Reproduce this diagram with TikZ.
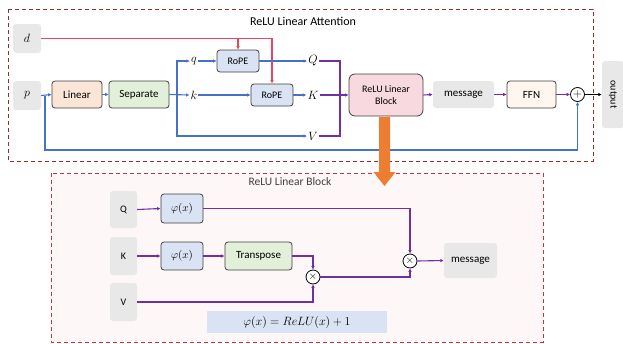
\documentclass[tikz,border=0pt]{standalone}
\usepackage{fontspec}
\setmainfont{Carlito}
\usetikzlibrary{arrows.meta}
\definecolor{cblue}{HTML}{4472C4}
\definecolor{cred}{HTML}{E4475E}
\definecolor{cpurple}{HTML}{7030A0}
\definecolor{corange}{HTML}{ED7D31}
\definecolor{cgray}{HTML}{E8E8E8}
\definecolor{cborder}{HTML}{404040}
\definecolor{cpeach}{HTML}{FBE5D6}
\definecolor{cgreen}{HTML}{E2F0D9}
\definecolor{clblue}{HTML}{DAE3F3}
\definecolor{cpink}{HTML}{F9D9E0}
\definecolor{cffn}{HTML}{FEF6EF}
\definecolor{cdarkred}{HTML}{A0282D}
\definecolor{cboxred}{HTML}{C8323C}
\definecolor{cboxfill}{HTML}{FDF7F8}
\tikzset{
  graybox/.style={draw=none,fill=cgray,rounded corners=3pt,inner sep=0pt,font=\fontsize{11}{13}\selectfont},
  blockbox/.style={draw=cborder,line width=0.8pt,rounded corners=3pt,inner sep=0pt,font=\fontsize{11}{13}\selectfont},
  mathlbl/.style={inner sep=1pt,font=\fontsize{13}{15}\selectfont},
  opcirc/.style={circle,draw=black,fill=white,line width=0.8pt,minimum size=14pt,inner sep=0pt},
  tip/.style={-{Latex[length=3.5pt,width=3.5pt]}},
  bl/.style={draw=cblue,line width=1.1pt},
  rl/.style={draw=cred,line width=1.1pt},
  pl/.style={draw=cpurple,line width=1.1pt},
}
\begin{document}
\begin{tikzpicture}[x=1pt,y=-1pt]
\useasboundingbox (0,0) rectangle (623,343);
% outer frames
\draw[cdarkred,dashed,line width=0.9pt,dash pattern=on 4pt off 3pt] (8,9) rectangle (593,161);
\node[font=\fontsize{12}{14}\selectfont] (t1) at (303,21) {ReLU Linear Attention};
\draw[cboxred,fill=cboxfill,line width=0.9pt,dash pattern=on 4pt off 3pt] (51,173) rectangle (543,342);
\node[font=\fontsize{11.5}{14}\selectfont,text=black!75] (t2) at (290,182) {ReLU Linear Block};

% top nodes
\node[graybox,minimum width=28pt,minimum height=29pt] (d) at (27,38.5) {\fontsize{13}{15}\selectfont$d$};
\node[graybox,minimum width=28pt,minimum height=29pt] (p) at (27,95.5) {\fontsize{13}{15}\selectfont$p$};
\node[blockbox,fill=cpeach,minimum width=50pt,minimum height=27pt] (lin) at (77,94.5) {Linear};
\node[blockbox,fill=cgreen,minimum width=60pt,minimum height=27pt] (sep) at (139,94.5) {Separate};
\node[mathlbl] (q) at (194,61) {$q$};
\node[mathlbl] (k) at (194,95) {$k$};
\node[mathlbl] (Q) at (313,61) {$Q$};
\node[mathlbl] (K) at (313,95) {$K$};
\node[mathlbl] (V) at (313,136) {$V$};
\node[blockbox,fill=clblue,minimum width=42pt,minimum height=22pt,font=\fontsize{10}{12}\selectfont] (r1) at (238,61) {RoPE};
\node[blockbox,fill=clblue,minimum width=42pt,minimum height=22pt,font=\fontsize{10}{12}\selectfont] (r2) at (272,95) {RoPE};
\node[blockbox,fill=cpink,rounded corners=6pt,minimum width=74pt,minimum height=42pt,align=center,font=\fontsize{10}{12}\selectfont] (rlb) at (386,95) {ReLU Linear\\Block};
\node[graybox,minimum width=61pt,minimum height=27pt] (msg) at (463.5,94.5) {message};
\node[blockbox,fill=cffn,minimum width=49pt,minimum height=27pt] (ffn) at (531.5,94.5) {FFN};
\node[opcirc] (plus) at (577.5,94.5) {\fontsize{12}{12}\selectfont$+$};
\node[graybox,minimum width=22pt,minimum height=67pt] (out) at (613,94.5) {};
\node[rotate=-90,font=\fontsize{10}{12}\selectfont] (outt) at (out.center) {output};

% red lines
\coordinate (rb) at (238,38.5);
\draw[rl,tip] (d.east) -- (272,38.5) -- (r2.north);
\draw[rl,tip] (rb) -- (r1.north);

% blue lines
\coordinate (pj) at (45,95.5);
\coordinate (sj) at (177,94.5);
\draw[bl,tip] (p.east) -- (lin.west);
\draw[bl,tip] (pj) -- (45,150) -- (577.5,150) -- (plus.south);
\draw[bl,tip] (lin.east) -- (sep.west);
\draw[bl,tip] (sep.east) -- (k.west);
\draw[bl,tip] (sj) -- (177,61) -- (q.west);
\draw[bl,tip] (sj) -- (177,136) -- (V.west);
\draw[bl,tip] (q.east) -- (r1.west);
\draw[bl,tip] (r1.east) -- (Q.west);
\draw[bl,tip] (k.east) -- (r2.west);
\draw[bl,tip] (r2.east) -- (K.west);

% purple lines
\draw[pl] (Q.east) -- (340,61) -- (340,136) -- (V.east);
\draw[pl,tip] (K.east) -- (rlb.west);
\draw[pl,tip] (rlb.east) -- (msg.west);
\draw[pl,tip] (msg.east) -- (ffn.west);
\draw[pl,tip] (ffn.east) -- (plus.west);
\draw[line width=1.1pt,tip] (plus.east) -- (out.west);

% bottom block
\node[graybox,minimum width=27pt,minimum height=37pt,font=\fontsize{10}{12}\selectfont] (bq) at (123.5,209.5) {Q};
\node[graybox,minimum width=27pt,minimum height=38pt,font=\fontsize{10}{12}\selectfont] (bk) at (123.5,256) {K};
\node[graybox,minimum width=27pt,minimum height=38pt,font=\fontsize{10}{12}\selectfont] (bv) at (123.5,302) {V};
\node[blockbox,fill=clblue,minimum width=42pt,minimum height=29pt] (f1) at (182,208.5) {$\varphi(x)$};
\node[blockbox,fill=clblue,minimum width=42pt,minimum height=28pt] (f2) at (182,256) {$\varphi(x)$};
\node[blockbox,fill=cgreen,minimum width=67pt,minimum height=28pt] (tr) at (258.5,256) {Transpose};
\node[opcirc] (m1) at (313,277) {\fontsize{11}{11}\selectfont$\times$};
\node[opcirc] (m2) at (410,261) {\fontsize{11}{11}\selectfont$\times$};
\node[graybox,minimum width=53pt,minimum height=35pt] (bmsg) at (470.5,260.5) {message};
\node[fill=clblue,minimum width=180pt,minimum height=22pt,inner sep=0pt,font=\fontsize{13}{15}\selectfont] (form) at (297,322) {$\varphi(x)=ReLU(x)+1$};

\draw[pl,tip] (bq.east) -- (f1.west);
\draw[pl,tip] (f1.east) -- (m2.north |- f1.east) -- (m2.north);
\draw[pl,tip] (bk.east) -- (f2.west);
\draw[pl,tip] (f2.east) -- (tr.west);
\draw[pl,tip] (tr.east) -- (m1.north |- tr.east) -- (m1.north);
\draw[pl,tip] (bv.east) -- (m1.south |- bv.east) -- (m1.south);
\draw[pl,tip] (m1.east) -- (m2.south |- m1.east) -- (m2.south);
\draw[pl,tip] (m2.east) -- (bmsg.west);

% orange arrow
\fill[corange] (379,117) -- (390,117) -- (390,172) -- (395.5,172) -- (384.5,186) -- (373.5,172) -- (379,172) -- cycle;
\end{tikzpicture}
\end{document}
